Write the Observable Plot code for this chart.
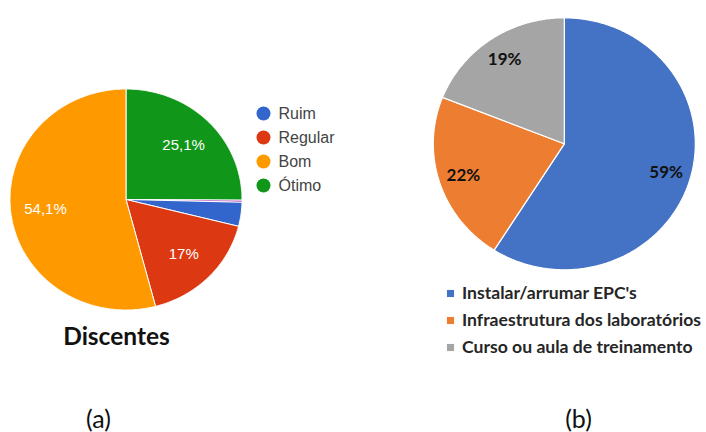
<!DOCTYPE html>
<html><head><meta charset="utf-8">
<script src="https://cdn.jsdelivr.net/npm/d3@7"></script>
<script src="https://cdn.jsdelivr.net/npm/@observablehq/plot@0.6"></script>
<style>html,body{margin:0;padding:0;background:#fff} svg{display:block}</style>
</head><body><div id="chart"></div>
<script>
// ---- Data: panel (a) Discentes (clockwise from 12 o'clock)
const categoriesA = ["Ótimo", "Outro", "Ruim", "Regular", "Bom"];
const valuesA = [25.1, 0.3, 3.5, 17, 54.1];
const sliceLabelsA = ["25,1%", "", "", "17%", "54,1%"];
const legendA = ["Ruim", "Regular", "Bom", "Ótimo"];
const titleA = "Discentes";
const panelA = "(a)";

// ---- Data: panel (b) (clockwise from 12 o'clock)
const categoriesB = ["Instalar/arrumar EPC's", "Infraestrutura dos laboratórios", "Curso ou aula de treinamento"];
const valuesB = [59, 22, 19];
const sliceLabelsB = ["59%", "22%", "19%"];
const panelB = "(b)";

// ---- Styles
const paletteA = {"Ótimo": "#109618", "Outro": "#990099", "Ruim": "#3366cc", "Regular": "#dc3912", "Bom": "#ff9900"};
const paletteB = {"Instalar/arrumar EPC's": "#4472c4", "Infraestrutura dos laboratórios": "#ed7d31", "Curso ou aula de treinamento": "#a5a5a5"};

// ---- Layout (pixel space)
const W = 706, H = 432;
const geoA = {cx: 125.5, cy: 199, rx: 116, ry: 110.5, labelR: 0.7};
const geoB = {cx: 563.8, cy: 143.3, rx: 131, ry: 126, labelR: 0.81};
const legA = {x: 263, y0: 113, dy: 24, tx: 278};
const legB = {x: 450, y0: 293, dy: 27, tx: 461.5};

function slices(cats, vals, g, prefix) {
  const arcs = d3.pie().sort(null).value(d => d)(vals);
  const pts = [];
  arcs.forEach((a, i) => {
    const key = prefix + i;
    pts.push({key, cat: cats[i], x: g.cx, y: g.cy});
    const n = Math.max(2, Math.ceil((a.endAngle - a.startAngle) / 0.01));
    for (let k = 0; k <= n; k++) {
      const t = a.startAngle + (a.endAngle - a.startAngle) * k / n;
      pts.push({key, cat: cats[i], x: g.cx + g.rx * Math.sin(t), y: g.cy - g.ry * Math.cos(t)});
    }
    pts.push({key, cat: cats[i], x: g.cx, y: g.cy});
  });
  return pts;
}
function labelPts(vals, labels, g) {
  const arcs = d3.pie().sort(null).value(d => d)(vals);
  return arcs.map((a, i) => {
    const t = (a.startAngle + a.endAngle) / 2;
    return {text: labels[i], x: g.cx + g.labelR * g.rx * Math.sin(t), y: g.cy - g.labelR * g.ry * Math.cos(t)};
  }).filter(d => d.text);
}

const ptsA = slices(categoriesA, valuesA, geoA, "a");
const ptsB = slices(categoriesB, valuesB, geoB, "b");
const labA = labelPts(valuesA, sliceLabelsA, geoA);
const labB = labelPts(valuesB, sliceLabelsB, geoB);
const legendAData = legendA.map((c, i) => ({cat: c, x: legA.x, y: legA.y0 + i * legA.dy}));
const legendBData = categoriesB.map((c, i) => ({cat: c, x: legB.x, y: legB.y0 + i * legB.dy}));

const colorDomain = [...categoriesA, ...categoriesB];
const colorRange = colorDomain.map(c => paletteA[c] || paletteB[c]);

const chart = Plot.plot({
  width: W, height: H,
  margin: 0,
  x: {domain: [0, W], range: [0, W], axis: null},
  y: {domain: [0, H], range: [0, H], axis: null},
  color: {domain: colorDomain, range: colorRange},
  marks: [
    Plot.line(ptsA, {x: "x", y: "y", z: "key", fill: "cat", stroke: "white", strokeWidth: 1, curve: "linear"}),
    Plot.line(ptsB, {x: "x", y: "y", z: "key", fill: "cat", stroke: "white", strokeWidth: 1.2, curve: "linear"}),
    Plot.text(labA, {x: "x", y: "y", text: "text", fill: "white", fontSize: 15, fontFamily: "Liberation Sans, Arial, sans-serif"}),
    Plot.text(labB, {x: "x", y: "y", text: "text", fill: "#111", fontSize: 17, fontWeight: "bold", fontFamily: "Lato, sans-serif"}),
    Plot.dot(legendAData, {x: "x", y: "y", r: 7, fill: "cat"}),
    Plot.text(legendAData, {x: () => legA.tx, y: "y", text: "cat", textAnchor: "start", fill: "#444", fontSize: 16, fontFamily: "Liberation Sans, Arial, sans-serif"}),
    Plot.dot(legendBData, {x: "x", y: "y", r: 4, symbol: "square", fill: "cat"}),
    Plot.text(legendBData, {x: () => legB.tx, y: "y", text: "cat", textAnchor: "start", fill: "#262626", fontSize: 17.6, fontWeight: "bold", fontFamily: "Lato, sans-serif"}),
    Plot.text([titleA], {x: () => 116, y: () => 337, text: d => d, fill: "#111", fontSize: 24.5, fontWeight: "bold", fontFamily: "Lato, sans-serif"}),
    Plot.text([panelA, panelB], {x: (d, i) => [98, 578][i], y: () => 419, text: d => d, fill: "#111", fontSize: 25, fontFamily: "Lato, sans-serif"})
  ]
});
document.getElementById("chart").appendChild(chart);
</script>
</body></html>
